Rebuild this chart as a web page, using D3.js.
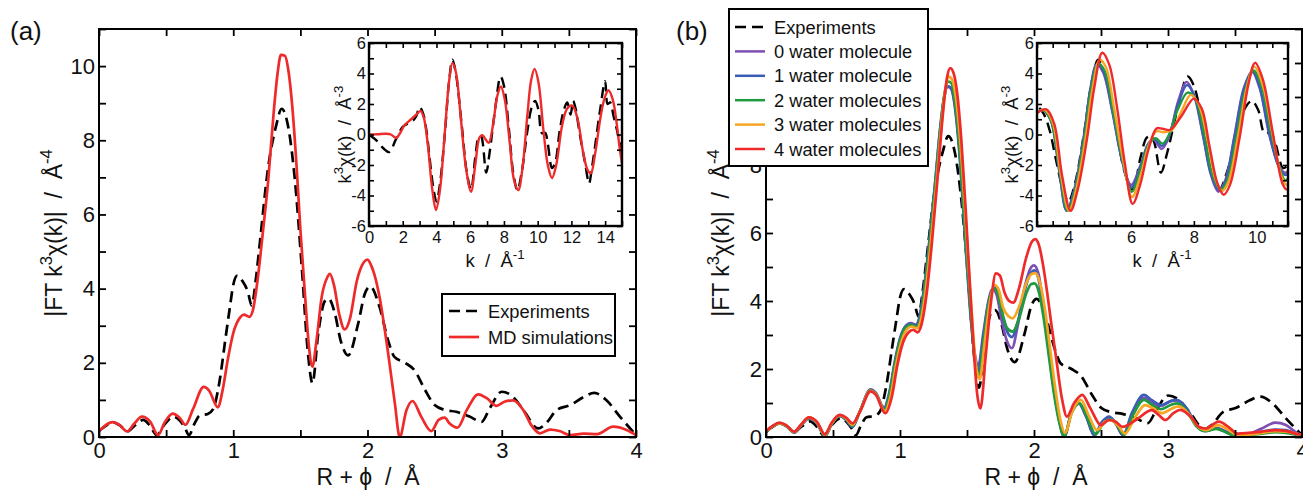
<!DOCTYPE html>
<html><head><meta charset="utf-8">
<script src="https://cdn.jsdelivr.net/npm/d3@7"></script>
<style>
body{margin:0;background:#fff}
svg text{font-family:"Liberation Sans",Arial,Helvetica,sans-serif;fill:#111;white-space:pre}
</style></head><body>
<svg id="c" width="1303" height="490"></svg>
<script>
// ---------------- DATA ----------------
// Panel (a) main: |FT k3 chi(k)| vs R+phi
const aExp = [[0.00,0.17],[0.05,0.30],[0.10,0.40],[0.16,0.30],[0.21,0.15],[0.27,0.32],[0.33,0.46],[0.38,0.30],[0.43,0.05],[0.49,0.35],[0.555,0.55],[0.60,0.45],[0.64,0.25],[0.67,0.05],[0.71,0.35],[0.75,0.58],[0.81,0.62],[0.85,0.75],[0.90,1.55],[0.94,2.60],[0.975,3.50],[1.00,4.10],[1.03,4.35],[1.07,4.20],[1.11,3.90],[1.137,3.55],[1.17,4.30],[1.20,5.30],[1.26,7.27],[1.32,8.40],[1.36,8.85],[1.41,8.35],[1.46,6.90],[1.51,4.60],[1.558,2.20],[1.59,1.45],[1.633,2.79],[1.68,3.65],[1.71,3.73],[1.757,3.33],[1.80,2.60],[1.856,2.20],[1.93,3.05],[1.98,3.86],[2.02,4.06],[2.09,3.50],[2.154,2.60],[2.20,2.16],[2.28,2.00],[2.35,1.80],[2.43,1.26],[2.50,0.86],[2.576,0.73],[2.66,0.68],[2.76,0.55],[2.85,0.41],[2.91,0.77],[3.00,1.22],[3.085,1.08],[3.17,0.68],[3.27,0.23],[3.33,0.37],[3.41,0.73],[3.51,0.86],[3.61,1.08],[3.69,1.19],[3.78,0.99],[3.88,0.55],[4.00,0.05]];
const aMD = [[0.00,0.15],[0.05,0.32],[0.10,0.40],[0.15,0.33],[0.21,0.15],[0.26,0.35],[0.32,0.55],[0.38,0.42],[0.44,0.05],[0.49,0.40],[0.55,0.63],[0.60,0.52],[0.645,0.33],[0.70,0.75],[0.78,1.35],[0.82,1.25],[0.885,0.80],[0.92,1.25],[0.96,2.10],[1.00,2.80],[1.05,3.22],[1.08,3.30],[1.12,3.24],[1.145,3.40],[1.18,4.20],[1.22,5.50],[1.26,6.90],[1.30,8.70],[1.33,9.80],[1.355,10.30],[1.385,10.28],[1.41,9.90],[1.44,8.90],[1.47,7.40],[1.50,5.60],[1.535,3.80],[1.565,2.40],[1.59,1.90],[1.62,2.60],[1.66,3.80],[1.70,4.30],[1.72,4.40],[1.75,4.10],[1.79,3.30],[1.83,2.90],[1.87,3.20],[1.92,4.20],[1.97,4.70],[2.00,4.78],[2.03,4.60],[2.05,4.40],[2.09,3.77],[2.154,2.25],[2.204,0.90],[2.24,0.00],[2.29,0.72],[2.335,0.97],[2.40,0.55],[2.475,0.16],[2.53,0.46],[2.575,0.52],[2.61,0.37],[2.67,0.25],[2.74,0.73],[2.825,1.15],[2.89,1.04],[2.96,0.84],[3.02,0.95],[3.085,0.99],[3.16,0.73],[3.22,0.32],[3.285,0.10],[3.36,0.20],[3.43,0.16],[3.51,0.05],[3.61,0.09],[3.71,0.08],[3.83,0.28],[3.93,0.19],[4.00,0.05]];

// Insets: k3 chi(k) vs k
const kExp = [[0,0],[0.5,-0.45],[0.85,-0.9],[1.2,-1.15],[1.6,-0.3],[2.0,0.5],[2.2,0.65],[2.6,0.9],[2.8,1.2],[3.0,1.8],[3.2,1.4],[3.4,0.3],[3.6,-1.6],[3.8,-3.4],[4.0,-4.4],[4.2,-3.3],[4.5,0.1],[4.75,3.5],[4.95,4.9],[5.15,4.0],[5.5,0.6],[5.8,-2.5],[6.05,-3.6],[6.3,-1.5],[6.5,-0.2],[6.65,-0.1],[6.75,-0.6],[6.95,-2.5],[7.15,-1.2],[7.5,1.85],[7.8,3.8],[8.0,3.2],[8.3,0.3],[8.55,-2.5],[8.8,-3.65],[9.05,-2.5],[9.4,0.3],[9.65,1.8],[9.85,2.2],[10.05,1.6],[10.25,0.1],[10.45,0.1],[10.6,-0.6],[10.85,-2.2],[11.05,-1.8],[11.3,0.2],[11.55,1.6],[11.75,2.1],[11.95,1.3],[12.1,2.2],[12.25,1.7],[12.5,0.0],[12.8,-1.8],[13.05,-3.2],[13.2,-2.3],[13.4,-0.8],[13.7,1.6],[14.0,3.5],[14.15,2.0],[14.3,2.1],[14.5,1.2],[14.7,0.3],[14.85,-0.5],[15.0,-0.9]];
const kMD = [[0,0],[0.5,0.02],[1.0,0.05],[1.3,0.0],[1.6,-0.22],[1.85,0.1],[2.1,0.6],[2.5,1.0],[2.8,1.3],[3.05,1.55],[3.25,1.1],[3.5,-0.8],[3.75,-3.6],[3.97,-4.95],[4.2,-3.7],[4.5,0.2],[4.75,3.5],[4.95,4.7],[5.15,4.1],[5.45,1.0],[5.75,-2.2],[6.05,-3.75],[6.3,-2.0],[6.55,-0.2],[6.72,-0.05],[6.9,-0.3],[7.1,-0.55],[7.35,0.6],[7.6,2.5],[7.82,3.15],[8.05,2.3],[8.35,-0.6],[8.6,-3.0],[8.85,-3.65],[9.1,-2.2],[9.4,1.4],[9.62,3.6],[9.82,4.3],[10.05,3.4],[10.35,0.2],[10.6,-2.0],[10.85,-2.85],[11.1,-2.0],[11.45,0.6],[11.75,1.7],[12.05,1.9],[12.35,1.1],[12.7,-1.2],[12.95,-2.3],[13.15,-2.55],[13.4,-1.3],[13.75,1.3],[14.0,2.5],[14.2,2.9],[14.45,2.3],[14.7,0.6],[14.85,-0.8],[15.0,-1.9]];

// Panel (b) main: n water molecules
const bW0 = [[0.00,0.15],[0.05,0.32],[0.10,0.40],[0.15,0.33],[0.21,0.13],[0.26,0.33],[0.32,0.55],[0.38,0.40],[0.44,0.03],[0.49,0.38],[0.55,0.62],[0.60,0.50],[0.645,0.30],[0.70,0.75],[0.78,1.40],[0.82,1.30],[0.88,0.85],[0.92,1.30],[0.96,2.20],[1.00,2.90],[1.05,3.30],[1.08,3.35],[1.12,3.30],[1.14,3.45],[1.18,4.40],[1.22,5.80],[1.26,7.40],[1.30,9.10],[1.33,10.00],[1.355,10.30],[1.38,10.25],[1.41,9.70],[1.44,8.50],[1.47,6.80],[1.50,5.00],[1.53,3.40],[1.56,2.40],[1.585,2.10],[1.62,3.00],[1.66,4.00],[1.69,4.35],[1.72,4.20],[1.76,3.40],[1.80,2.80],[1.835,2.61],[1.88,3.30],[1.93,4.40],[1.98,5.00],[2.00,5.05],[2.03,4.85],[2.07,3.90],[2.11,2.60],[2.15,1.40],[2.19,0.50],[2.225,0.02],[2.28,0.75],[2.33,1.00],[2.39,0.60],[2.45,0.05],[2.51,0.45],[2.56,0.58],[2.61,0.40],[2.665,0.05],[2.73,0.65],[2.82,1.15],[2.88,1.00],[2.95,0.92],[3.02,1.05],[3.07,1.08],[3.15,0.75],[3.21,0.35],[3.28,0.18],[3.36,0.27],[3.43,0.17],[3.52,0.02],[3.60,0.08],[3.70,0.25],[3.80,0.42],[3.88,0.35],[3.95,0.15],[4.00,0.05]];
const bW1 = [[0.00,0.14],[0.05,0.31],[0.10,0.40],[0.15,0.33],[0.21,0.13],[0.26,0.33],[0.32,0.55],[0.38,0.40],[0.44,0.03],[0.49,0.38],[0.55,0.62],[0.60,0.50],[0.645,0.30],[0.70,0.75],[0.78,1.38],[0.82,1.28],[0.88,0.83],[0.92,1.28],[0.96,2.15],[1.00,2.88],[1.05,3.28],[1.08,3.33],[1.12,3.28],[1.14,3.42],[1.18,4.35],[1.22,5.75],[1.26,7.35],[1.30,9.05],[1.33,10.0],[1.355,10.32],[1.38,10.28],[1.41,9.75],[1.44,8.60],[1.47,6.90],[1.50,5.10],[1.53,3.50],[1.56,2.30],[1.585,1.95],[1.62,2.90],[1.66,3.95],[1.70,4.40],[1.73,4.25],[1.77,3.50],[1.80,3.10],[1.835,2.94],[1.88,3.40],[1.93,4.30],[1.98,4.85],[2.005,4.90],[2.03,4.70],[2.07,3.80],[2.11,2.55],[2.15,1.35],[2.19,0.45],[2.225,0.00],[2.28,0.72],[2.335,0.99],[2.39,0.60],[2.45,0.05],[2.51,0.45],[2.56,0.60],[2.61,0.40],[2.665,0.05],[2.73,0.70],[2.82,1.24],[2.88,1.08],[2.95,0.94],[3.02,1.06],[3.06,1.09],[3.15,0.78],[3.21,0.35],[3.28,0.18],[3.36,0.25],[3.43,0.15],[3.52,0.01],[3.60,0.05],[3.70,0.15],[3.80,0.22],[3.88,0.20],[3.95,0.10],[4.00,0.04]];
const bW2 = [[0.00,0.15],[0.05,0.31],[0.10,0.40],[0.15,0.33],[0.21,0.14],[0.26,0.34],[0.32,0.56],[0.38,0.41],[0.44,0.04],[0.49,0.39],[0.55,0.63],[0.60,0.52],[0.645,0.33],[0.70,0.75],[0.78,1.37],[0.82,1.27],[0.885,0.80],[0.92,1.22],[0.96,2.10],[1.00,2.83],[1.05,3.25],[1.08,3.30],[1.12,3.25],[1.145,3.38],[1.18,4.25],[1.22,5.65],[1.26,7.25],[1.30,9.00],[1.33,10.05],[1.36,10.45],[1.385,10.40],[1.41,9.85],[1.44,8.70],[1.47,7.00],[1.50,5.20],[1.53,3.55],[1.56,2.25],[1.59,1.80],[1.62,2.70],[1.66,3.90],[1.70,4.37],[1.73,4.20],[1.77,3.55],[1.80,3.20],[1.84,3.10],[1.89,3.50],[1.94,4.20],[1.98,4.50],[2.005,4.52],[2.03,4.35],[2.07,3.55],[2.11,2.40],[2.15,1.25],[2.19,0.40],[2.225,0.02],[2.28,0.70],[2.34,0.99],[2.40,0.55],[2.46,0.08],[2.52,0.42],[2.57,0.52],[2.62,0.35],[2.67,0.07],[2.74,0.65],[2.82,1.09],[2.88,0.95],[2.95,0.82],[3.02,0.94],[3.07,0.99],[3.15,0.70],[3.21,0.32],[3.28,0.17],[3.36,0.24],[3.43,0.14],[3.52,0.01],[3.60,0.05],[3.70,0.10],[3.80,0.14],[3.88,0.12],[3.95,0.07],[4.00,0.03]];
const bW3 = [[0.00,0.16],[0.05,0.32],[0.10,0.41],[0.15,0.34],[0.21,0.15],[0.26,0.35],[0.32,0.57],[0.38,0.43],[0.44,0.06],[0.49,0.40],[0.55,0.64],[0.60,0.54],[0.645,0.36],[0.70,0.74],[0.78,1.36],[0.82,1.26],[0.885,0.76],[0.93,1.20],[0.97,2.10],[1.01,2.80],[1.06,3.20],[1.09,3.25],[1.125,3.20],[1.15,3.35],[1.19,4.25],[1.23,5.70],[1.27,7.35],[1.31,9.20],[1.34,10.25],[1.365,10.60],[1.39,10.50],[1.42,9.90],[1.45,8.70],[1.48,7.00],[1.51,5.10],[1.54,3.40],[1.565,2.15],[1.595,1.70],[1.63,2.70],[1.67,3.95],[1.705,4.47],[1.735,4.35],[1.77,3.80],[1.81,3.55],[1.84,3.49],[1.89,3.85],[1.94,4.50],[1.985,4.80],[2.01,4.82],[2.04,4.60],[2.08,3.80],[2.12,2.60],[2.16,1.40],[2.20,0.45],[2.23,0.12],[2.29,0.80],[2.35,1.09],[2.41,0.62],[2.47,0.20],[2.53,0.45],[2.575,0.50],[2.63,0.32],[2.68,0.10],[2.75,0.55],[2.83,0.94],[2.89,0.84],[2.955,0.70],[3.03,0.84],[3.08,0.90],[3.16,0.65],[3.22,0.32],[3.285,0.20],[3.37,0.35],[3.44,0.24],[3.52,0.06],[3.60,0.07],[3.70,0.12],[3.80,0.17],[3.88,0.16],[3.95,0.10],[4.00,0.04]];
const bW4 = [[0.00,0.18],[0.05,0.33],[0.10,0.42],[0.15,0.35],[0.21,0.16],[0.26,0.36],[0.32,0.58],[0.38,0.45],[0.44,0.08],[0.49,0.42],[0.55,0.65],[0.60,0.56],[0.645,0.40],[0.70,0.73],[0.78,1.34],[0.82,1.24],[0.89,0.70],[0.94,1.20],[0.98,2.10],[1.02,2.75],[1.07,3.10],[1.10,3.15],[1.13,3.08],[1.16,3.30],[1.20,4.25],[1.24,5.80],[1.28,7.60],[1.32,9.50],[1.35,10.55],[1.375,10.85],[1.40,10.70],[1.43,10.00],[1.46,8.60],[1.49,6.70],[1.52,4.60],[1.55,2.60],[1.575,1.30],[1.60,0.84],[1.64,2.40],[1.68,4.00],[1.715,4.81],[1.745,4.75],[1.78,4.25],[1.815,4.00],[1.845,3.95],[1.89,4.40],[1.94,5.25],[1.985,5.75],[2.01,5.82],[2.04,5.60],[2.07,5.00],[2.10,4.20],[2.13,3.30],[2.16,2.47],[2.21,1.10],[2.245,0.60],[2.30,1.00],[2.36,1.24],[2.42,0.85],[2.50,0.35],[2.56,0.50],[2.61,0.45],[2.66,0.30],[2.76,0.50],[2.88,0.79],[2.93,0.65],[2.98,0.50],[3.04,0.70],[3.09,0.80],[3.18,0.55],[3.23,0.30],[3.28,0.25],[3.38,0.45],[3.45,0.30],[3.52,0.10],[3.60,0.12],[3.70,0.16],[3.80,0.20],[3.88,0.18],[3.95,0.10],[4.00,0.06]];

// Panel (b) inset (k 3-11)
const kW0 = [[3.0,1.45],[3.2,1.6],[3.45,0.9],[3.7,-2.2],[3.94,-5.0],[4.2,-3.5],[4.5,0.0],[4.7,3.0],[4.9,4.6],[5.1,4.1],[5.4,1.5],[5.7,-1.6],[6.0,-3.3],[6.3,-2.0],[6.55,-0.6],[6.72,-0.35],[6.97,-0.95],[7.2,-0.2],[7.5,2.2],[7.77,3.45],[8.0,2.6],[8.3,-0.2],[8.55,-2.7],[8.78,-3.75],[9.0,-3.0],[9.3,0.0],[9.6,3.1],[9.86,4.1],[10.1,3.0],[10.4,0.0],[10.7,-2.0],[10.9,-2.5],[11.0,-2.4]];
const kW1 = [[3.0,1.45],[3.2,1.6],[3.45,0.85],[3.7,-2.3],[3.95,-5.0],[4.2,-3.6],[4.5,-0.1],[4.7,2.9],[4.92,4.6],[5.12,4.15],[5.4,1.6],[5.7,-1.6],[6.0,-3.5],[6.3,-2.1],[6.55,-0.6],[6.75,-0.3],[6.98,-0.75],[7.2,-0.1],[7.5,2.0],[7.78,3.25],[8.0,2.6],[8.3,-0.1],[8.55,-2.6],[8.8,-3.65],[9.0,-3.1],[9.3,-0.1],[9.6,3.0],[9.87,4.15],[10.1,3.1],[10.4,0.1],[10.7,-2.1],[10.9,-2.65],[11.0,-2.55]];
const kW2 = [[3.0,1.45],[3.22,1.6],[3.45,0.9],[3.72,-2.3],[3.98,-5.0],[4.22,-3.6],[4.52,-0.1],[4.72,2.9],[4.95,4.65],[5.15,4.2],[5.42,1.6],[5.72,-1.6],[6.02,-3.75],[6.3,-2.3],[6.55,-0.7],[6.78,-0.25],[7.0,-0.6],[7.2,-0.05],[7.5,1.7],[7.8,2.75],[8.05,2.3],[8.35,-0.2],[8.6,-2.7],[8.85,-3.6],[9.05,-3.1],[9.35,-0.2],[9.65,3.0],[9.9,4.2],[10.15,3.2],[10.45,0.2],[10.75,-2.3],[10.9,-3.0],[11.0,-2.9]];
const kW3 = [[3.0,1.45],[3.25,1.62],[3.5,0.8],[3.75,-2.5],[4.02,-5.0],[4.25,-3.6],[4.55,-0.2],[4.77,3.0],[5.0,4.9],[5.2,4.4],[5.45,1.8],[5.75,-1.7],[6.03,-4.1],[6.3,-2.7],[6.55,-0.8],[6.8,0.2],[7.05,0.15],[7.3,0.3],[7.6,1.5],[7.9,2.6],[8.15,2.0],[8.45,-0.5],[8.7,-3.0],[8.9,-3.7],[9.1,-3.1],[9.4,-0.2],[9.7,3.2],[9.92,4.45],[10.2,3.2],[10.5,0.1],[10.8,-2.8],[10.95,-3.3],[11.0,-3.25]];
const kW4 = [[3.0,1.4],[3.3,1.65],[3.55,0.7],[3.8,-2.7],[4.07,-5.0],[4.3,-3.6],[4.6,-0.2],[4.82,3.0],[5.08,5.36],[5.3,4.6],[5.55,1.8],[5.8,-1.9],[6.05,-4.55],[6.3,-3.2],[6.55,-1.0],[6.81,0.4],[7.0,0.38],[7.24,0.3],[7.6,1.2],[8.0,2.35],[8.25,1.7],[8.5,-0.8],[8.75,-3.2],[8.95,-3.95],[9.15,-3.3],[9.45,-0.3],[9.75,3.4],[9.95,4.7],[10.2,3.6],[10.5,0.3],[10.82,-3.2],[10.95,-3.6],[11.0,-3.55]];

// Labels
const legendA = ["Experiments", "MD simulations"];
const legendB = ["Experiments", "0 water molecule", "1 water molecule", "2 water molecules", "3 water molecules", "4 water molecules"];
const mainXTicks = [0, 1, 2, 3, 4];
const mainYTicksA = [0, 2, 4, 6, 8, 10];
const mainYTicksB = [0, 2, 4, 6, 8, 10, 12];
const insetYTicks = [-6, -4, -2, 0, 2, 4, 6];
const insetXTicksA = [0, 2, 4, 6, 8, 10, 12, 14];
const insetXTicksB = [4, 6, 8, 10];

// ---------------- STYLE ----------------
const RED = "#ee2a2a", PURPLE = "#7d4fb3", BLUE = "#3b5cb8", GREEN = "#1f9a3f", ORANGE = "#f6a623";
const DASH = "11,6";
const svg = d3.select("#c");
const defs = svg.append("defs");
let clipN = 0;

function addAxes(g, xs, ys, o) {
  const [x0, x1] = xs.range(), [y0, y1] = ys.range(); // y0 bottom, y1 top
  const ts = o.tick;
  const xAll = d3.range(o.xDom[0], o.xDom[1] + 1e-9, o.xStep).map(v => +v.toFixed(3));
  const yAll = d3.range(o.yDom[0], o.yDom[1] + 1e-9, o.yStep).map(v => +v.toFixed(3));
  const fmtX = d => o.xLab.includes(d) ? String(d) : "";
  const fmtY = d => o.yLab.includes(d) ? String(d) : "";
  const style = sel => {
    sel.select(".domain").remove();
    sel.selectAll("line").attr("stroke", "#000").attr("stroke-width", o.tw);
    sel.selectAll("text").attr("fill", "#111").attr("font-size", o.fs)
      .attr("font-family", '"Liberation Sans",Arial,sans-serif');
  };
  g.append("g").attr("transform", `translate(0,${y0})`)
    .call(d3.axisBottom(xs).tickValues(xAll).tickSize(-ts).tickPadding(o.padX).tickFormat(fmtX)).call(style);
  g.append("g").attr("transform", `translate(0,${y1})`)
    .call(d3.axisTop(xs).tickValues(xAll).tickSize(-ts).tickFormat("")).call(style);
  g.append("g").attr("transform", `translate(${x0},0)`)
    .call(d3.axisLeft(ys).tickValues(yAll).tickSize(-ts).tickPadding(o.padY).tickFormat(fmtY)).call(style);
  g.append("g").attr("transform", `translate(${x1},0)`)
    .call(d3.axisRight(ys).tickValues(yAll).tickSize(-ts).tickFormat("")).call(style);
  g.append("rect").attr("x", x0).attr("y", y1).attr("width", x1 - x0).attr("height", y0 - y1)
    .attr("fill", "none").attr("stroke", "#000").attr("stroke-width", o.fw);
}

function clip(xs, ys) {
  const id = "clip" + (clipN++);
  const [x0, x1] = xs.range(), [y0, y1] = ys.range();
  defs.append("clipPath").attr("id", id).append("rect")
    .attr("x", x0).attr("y", y1 - 1).attr("width", x1 - x0).attr("height", y0 - y1 + 1);
  return `url(#${id})`;
}

function drawLine(g, data, xs, ys, color, dashed, curve, w) {
  g.append("path").datum(data)
    .attr("d", d3.line().x(d => xs(d[0])).y(d => ys(d[1])).curve(curve))
    .attr("fill", "none").attr("stroke", color).attr("stroke-width", w || 2.7)
    .attr("stroke-linejoin", "round")
    .attr("stroke-dasharray", dashed ? DASH : null);
}

function supText(g, x, y, parts, fs, rotate, anchor) {
  const t = g.append("text").attr("font-size", fs).attr("text-anchor", anchor || "middle")
    .attr("transform", `translate(${x},${y})` + (rotate ? " rotate(-90)" : ""));
  let up = false;
  parts.forEach(p => {
    const sup = p.sup;
    const ts = t.append("tspan").text(p.t);
    if (sup && !up) { ts.attr("dy", -fs * 0.42).attr("font-size", fs * 0.72); up = true; }
    else if (sup) { ts.attr("font-size", fs * 0.72); }
    else if (!sup && up) { ts.attr("dy", fs * 0.42); up = false; }
  });
  return t;
}

const mainCurve = d3.curveMonotoneX;
const insetCurve = d3.curveCatmullRom.alpha(0.5);
const MAIN_FS = 22, INSET_FS = 16.5, TITLE_FS = 23, ITITLE_FS = 18.5, LEG_FS = 18.3;

// ---------------- PANEL (a) ----------------
{
  const g = svg.append("g");
  const xs = d3.scaleLinear().domain([0, 4]).range([99, 636]);
  const ys = d3.scaleLinear().domain([0, 11]).range([437, 29]);
  const lg = g.append("g").attr("clip-path", clip(xs, ys));
  drawLine(lg, aExp, xs, ys, "#000", true, mainCurve);
  drawLine(lg, aMD, xs, ys, RED, false, mainCurve);
  addAxes(g, xs, ys, {xDom: [0, 4], xStep: 0.5, yDom: [0, 11], yStep: 1, xLab: mainXTicks, yLab: mainYTicksA,
    tick: 7, tw: 1.8, fs: MAIN_FS, padX: 5, padY: 4, fw: 2});
  supText(g, 368, 485, [{t: "R + ϕ  /  Å"}], TITLE_FS);
  supText(g, 62, 233, [{t: "|FT k"}, {t: "3", sup: 1}, {t: "χ(k)|  /  Å"}, {t: "-4", sup: 1}], TITLE_FS, true);
  g.append("text").attr("x", 10).attr("y", 40).attr("font-size", 26).text("(a)");

  // inset
  const ix = d3.scaleLinear().domain([0, 15]).range([369, 622]);
  const iy = d3.scaleLinear().domain([-6, 6]).range([226, 43]);
  g.append("rect").attr("x", 369).attr("y", 43).attr("width", 253).attr("height", 183).attr("fill", "#fff");
  const ig = g.append("g").attr("clip-path", clip(ix, iy));
  drawLine(ig, kExp, ix, iy, "#000", true, insetCurve, 2.4);
  drawLine(ig, kMD, ix, iy, RED, false, insetCurve, 2.4);
  addAxes(g, ix, iy, {xDom: [0, 15], xStep: 1, yDom: [-6, 6], yStep: 1, xLab: insetXTicksA, yLab: insetYTicks,
    tick: 5, tw: 1.6, fs: INSET_FS, padX: 5, padY: 3, fw: 2.4});
  supText(g, 495, 267, [{t: "k  /  Å"}, {t: "-1", sup: 1}], ITITLE_FS);
  supText(g, 351, 134.5, [{t: "k"}, {t: "3", sup: 1}, {t: "χ(k)  /  Å"}, {t: "-3", sup: 1}], ITITLE_FS, true);

  // legend
  const L = g.append("g");
  L.append("rect").attr("x", 442).attr("y", 294).attr("width", 173).attr("height", 62)
    .attr("fill", "#fff").attr("stroke", "#000").attr("stroke-width", 2);
  const cols = ["#000", RED];
  legendA.forEach((name, i) => {
    const y = 311 + i * 26;
    L.append("line").attr("x1", 449).attr("x2", 479).attr("y1", y).attr("y2", y)
      .attr("stroke", cols[i]).attr("stroke-width", 2.7).attr("stroke-dasharray", i === 0 ? DASH : null);
    L.append("text").attr("x", 488).attr("y", y + 6.5).attr("font-size", LEG_FS).text(name);
  });
}

// ---------------- PANEL (b) ----------------
{
  const g = svg.append("g");
  const xs = d3.scaleLinear().domain([0, 4]).range([766, 1302]);
  const ys = d3.scaleLinear().domain([0, 12]).range([437, 29]);
  const lg = g.append("g").attr("clip-path", clip(xs, ys));
  const series = [bW0, bW1, bW2, bW3, bW4];
  const colors = [PURPLE, BLUE, GREEN, ORANGE, RED];
  drawLine(lg, aExp, xs, ys, "#000", true, mainCurve);
  series.forEach((s, i) => drawLine(lg, s, xs, ys, colors[i], false, mainCurve));
  addAxes(g, xs, ys, {xDom: [0, 4], xStep: 0.5, yDom: [0, 12], yStep: 1, xLab: mainXTicks, yLab: mainYTicksB,
    tick: 7, tw: 1.8, fs: MAIN_FS, padX: 5, padY: 4, fw: 2});
  supText(g, 1036, 485, [{t: "R + ϕ  /  Å"}], TITLE_FS);
  supText(g, 729, 233, [{t: "|FT k"}, {t: "3", sup: 1}, {t: "χ(k)|  /  Å"}, {t: "-4", sup: 1}], TITLE_FS, true);
  g.append("text").attr("x", 676).attr("y", 40).attr("font-size", 26).text("(b)");

  // inset
  const ix = d3.scaleLinear().domain([3, 11]).range([1037, 1288]);
  const iy = d3.scaleLinear().domain([-6, 6]).range([226, 43]);
  g.append("rect").attr("x", 1037).attr("y", 43).attr("width", 251).attr("height", 183).attr("fill", "#fff");
  const ig = g.append("g").attr("clip-path", clip(ix, iy));
  const kser = [kW0, kW1, kW2, kW3, kW4];
  drawLine(ig, kExp, ix, iy, "#000", true, insetCurve, 2.4);
  kser.forEach((s, i) => drawLine(ig, s, ix, iy, colors[i], false, insetCurve, 2.4));
  addAxes(g, ix, iy, {xDom: [3, 11], xStep: 0.5, yDom: [-6, 6], yStep: 1, xLab: insetXTicksB, yLab: insetYTicks,
    tick: 5, tw: 1.6, fs: INSET_FS, padX: 5, padY: 3, fw: 2.4});
  supText(g, 1162, 267, [{t: "k  /  Å"}, {t: "-1", sup: 1}], ITITLE_FS);
  supText(g, 1018, 134.5, [{t: "k"}, {t: "3", sup: 1}, {t: "χ(k)  /  Å"}, {t: "-3", sup: 1}], ITITLE_FS, true);

  // legend
  const L = g.append("g");
  L.append("rect").attr("x", 729).attr("y", 9).attr("width", 199).attr("height", 157)
    .attr("fill", "#fff").attr("stroke", "#000").attr("stroke-width", 2);
  const lc = ["#000"].concat(colors);
  legendB.forEach((name, i) => {
    const y = 27 + i * 24.4;
    L.append("line").attr("x1", 735).attr("x2", 765).attr("y1", y).attr("y2", y)
      .attr("stroke", lc[i]).attr("stroke-width", 2.5).attr("stroke-dasharray", i === 0 ? DASH : null);
    L.append("text").attr("x", 774).attr("y", y + 6.5).attr("font-size", LEG_FS).text(name);
  });
}
</script>
</body></html>
